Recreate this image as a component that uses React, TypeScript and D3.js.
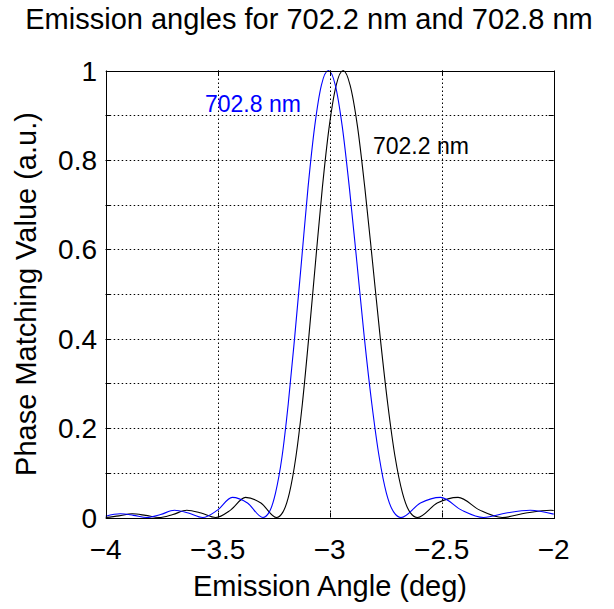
import React from "react";
import * as d3 from "d3";

const TITLE = "Emission angles for 702.2 nm and 702.8 nm";
const X_LABEL = "Emission Angle (deg)";
const Y_LABEL = "Phase Matching Value (a.u.)";

const xTicks = [-4, -3.5, -3, -2.5, -2];
const xTickLabels = ["\u22124", "\u22123.5", "\u22123", "\u22122.5", "\u22122"];
const yTicks = [0, 0.2, 0.4, 0.6, 0.8, 1];
const yTickLabels = ["0", "0.2", "0.4", "0.6", "0.8", "1"];
const yGridTicks = [0.1, 0.2, 0.3, 0.4, 0.5, 0.6, 0.7, 0.8, 0.9];
const yAllTicks = [0, 0.1, 0.2, 0.3, 0.4, 0.5, 0.6, 0.7, 0.8, 0.9, 1];
const xGridTicks = [-3.5, -3, -2.5];

// 702.8 nm (blue)
const blueAngles = [
  -4.0, -3.935, -3.876, -3.816, -3.755, -3.693, -3.631, -3.567, -3.501, -3.435,
  -3.367, -3.298, -3.27, -3.242, -3.213, -3.185, -3.156, -3.126, -3.097, -3.067,
  -3.037, -3.006, -2.975, -2.944, -2.912, -2.879, -2.846, -2.812, -2.779, -2.747,
  -2.714, -2.682, -2.595, -2.505, -2.411, -2.313, -2.212, -2.105, -2.0,
];
const blueValues = [
  0.0029, 0.0083, 0.0048, 0, 0.0067, 0.0162, 0.01, 0, 0.0165, 0.045,
  0.0324, 0, 0.012, 0.0547, 0.1353, 0.2546, 0.4053, 0.5728, 0.7368, 0.8751,
  0.9675, 1, 0.9675, 0.8751, 0.7368, 0.5728, 0.4053, 0.2546, 0.1353, 0.0547,
  0.012, 0, 0.0324, 0.045, 0.0165, 0, 0.01, 0.0162, 0.0075,
];

// 702.2 nm (black)
const blackAngles = [
  -4.0, -3.941, -3.882, -3.822, -3.762, -3.7, -3.638, -3.574, -3.509, -3.443,
  -3.376, -3.307, -3.237, -3.209, -3.18, -3.151, -3.122, -3.093, -3.063, -3.033,
  -3.002, -2.971, -2.94, -2.909, -2.876, -2.843, -2.809, -2.775, -2.741, -2.708,
  -2.675, -2.642, -2.609, -2.52, -2.427, -2.33, -2.23, -2.124, -2.013, -2.0,
];
const blackValues = [
  0, 0.0036, 0.0083, 0.0048, 0, 0.0067, 0.0162, 0.01, 0, 0.0165,
  0.045, 0.0324, 0, 0.012, 0.0547, 0.1353, 0.2546, 0.4053, 0.5728, 0.7368,
  0.8751, 0.9675, 1, 0.9675, 0.8751, 0.7368, 0.5728, 0.4053, 0.2546, 0.1353,
  0.0547, 0.012, 0, 0.0324, 0.045, 0.0165, 0, 0.01, 0.0162, 0.0157,
];

const W = 614;
const H = 609;
const L = 105.7;
const R = 553.7;
const T = 70.5;
const B = 517.5;
const FONT = "'Liberation Sans', Arial, Helvetica, sans-serif";

export default function App() {
  const x = d3.scaleLinear().domain([-4, -2]).range([L, R]);
  const y = d3.scaleLinear().domain([0, 1]).range([B, T]);
  const line = d3
    .line<[number, number]>()
    .x((d) => x(d[0]))
    .y((d) => y(d[1]))
    .curve(d3.curveMonotoneX);
  const blueData = blueAngles.map((a, i) => [a, blueValues[i]] as [number, number]);
  const blackData = blackAngles.map((a, i) => [a, blackValues[i]] as [number, number]);
  const px = (v: number) => Math.round(v) + 0.5;
  const tickLen = 5;

  return (
    <div style={{ position: "fixed", left: 0, top: 0, width: W, height: H, background: "#fff" }}>
      <svg width={W} height={H} style={{ display: "block", fontFamily: FONT }}>
        <rect x={0} y={0} width={W} height={H} fill="#fff" />
        {/* grid */}
        {yGridTicks.map((t) => (
          <line key={"yg" + t} x1={L} x2={R} y1={px(y(t))} y2={px(y(t))}
            stroke="#000" strokeWidth={1} strokeDasharray="1.5,2.5" />
        ))}
        {xGridTicks.map((t) => (
          <line key={"xg" + t} x1={px(x(t))} x2={px(x(t))} y1={T} y2={B}
            stroke="#000" strokeWidth={1} strokeDasharray="1.5,2.5" />
        ))}
        {/* curves */}
        <path d={line(blackData) || ""} fill="none" stroke="#000" strokeWidth={1.1} />
        <path d={line(blueData) || ""} fill="none" stroke="#0000ff" strokeWidth={1.1} />
        {/* box */}
        <rect x={px(L)} y={px(T)} width={Math.round(R) - Math.round(L)} height={Math.round(B) - Math.round(T)}
          fill="none" stroke="#000" strokeWidth={1} />
        {/* ticks */}
        {xTicks.map((t) => (
          <g key={"xt" + t}>
            <line x1={px(x(t))} x2={px(x(t))} y1={B} y2={B - tickLen} stroke="#000" />
            <line x1={px(x(t))} x2={px(x(t))} y1={T} y2={T + tickLen} stroke="#000" />
          </g>
        ))}
        {yAllTicks.map((t) => (
          <g key={"yt" + t}>
            <line x1={L} x2={L + tickLen} y1={px(y(t))} y2={px(y(t))} stroke="#000" />
            <line x1={R} x2={R - tickLen} y1={px(y(t))} y2={px(y(t))} stroke="#000" />
          </g>
        ))}
        {/* tick labels */}
        {xTicks.map((t, i) => (
          <text key={"xl" + t} x={x(t)} y={559} textAnchor="middle" fontSize={28} fill="#000">
            {xTickLabels[i]}
          </text>
        ))}
        {yTicks.map((t, i) => (
          <text key={"yl" + t} x={97} y={y(t) + 10} textAnchor="end" fontSize={28} fill="#000">
            {yTickLabels[i]}
          </text>
        ))}
        {/* labels */}
        <text x={330} y={596} textAnchor="middle" fontSize={29} fill="#000">{X_LABEL}</text>
        <text transform={`translate(36,${(T + B) / 2}) rotate(-90)`} textAnchor="middle" fontSize={29} fill="#000">
          {Y_LABEL}
        </text>
        <text x={309} y={29} textAnchor="middle" fontSize={29} fill="#000">{TITLE}</text>
        {/* annotations */}
        <text x={205} y={112} fontSize={23} fill="#0000ff">702.8 nm</text>
        <text x={373} y={154} fontSize={23} fill="#000">702.2 nm</text>
      </svg>
    </div>
  );
}
